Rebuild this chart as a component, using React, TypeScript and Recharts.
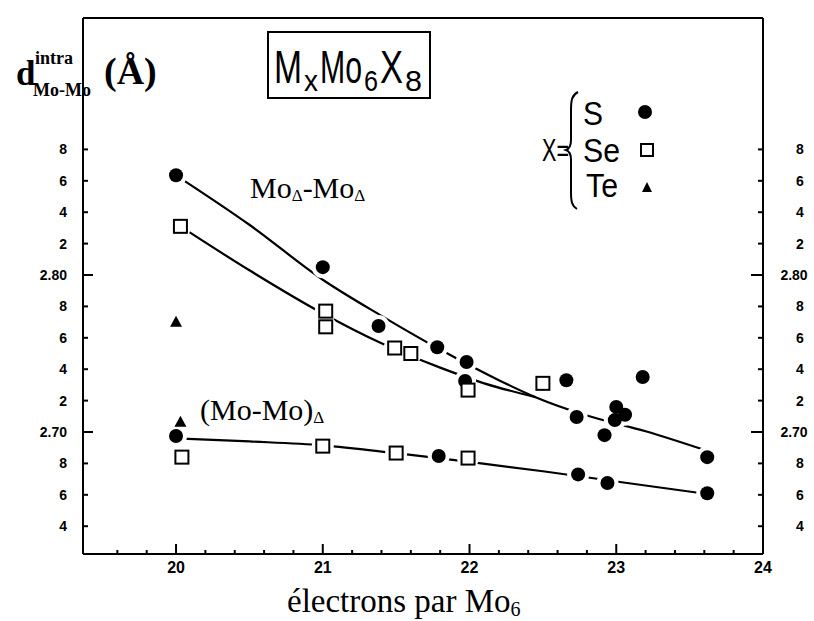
import React from 'react';
import { ComposedChart, Line, Scatter, XAxis, YAxis, ReferenceLine, Customized } from 'recharts';

const X_DOMAIN: [number, number] = [19.366, 24];
const Y_DOMAIN: [number, number] = [2.6223, 2.9637];

const xTicks = [19.6, 19.8, 20, 20.2, 20.4, 20.6, 20.8, 21, 21.2, 21.4, 21.6, 21.8, 22, 22.2, 22.4, 22.6, 22.8, 23, 23.2, 23.4, 23.6, 23.8, 24];
const xTickLabels = ['20', '21', '22', '23', '24'];
const yTicks = [2.64, 2.66, 2.68, 2.7, 2.72, 2.74, 2.76, 2.78, 2.8, 2.82, 2.84, 2.86, 2.88];
const yTickLabels = ['4', '6', '8', '2.70', '2', '4', '6', '8', '2.80', '2', '4', '6', '8'];

// X = S (filled circles)
const sulfurPoints: [number, number][] = [
  [20.0, 2.8635], [21.0, 2.805], [21.38, 2.7675], [21.78, 2.754], [21.98, 2.7446], [21.97, 2.7325],
  [22.66, 2.733], [23.18, 2.735], [22.73, 2.7096], [23.0, 2.716], [23.06, 2.711], [22.99, 2.7076],
  [22.92, 2.698], [23.62, 2.684],
  [20.0, 2.6975], [21.79, 2.6847], [22.74, 2.673], [22.94, 2.6675], [23.62, 2.661],
];
// X = Se (open squares)
const seleniumPoints: [number, number][] = [
  [20.03, 2.831], [21.02, 2.777], [21.02, 2.767], [21.49, 2.7535], [21.6, 2.75], [21.99, 2.7267], [22.5, 2.731],
  [20.04, 2.684], [21.0, 2.691], [21.5, 2.6866], [21.99, 2.6834],
];
// X = Te (filled triangles)
const telluriumPoints: [number, number][] = [
  [20.0, 2.7703], [20.03, 2.7066],
];

// hand-drawn trend curves
const curveMoTriS: [number, number][] = [
  [20.0, 2.8635], [20.5, 2.832], [21.0, 2.797], [21.4, 2.774], [21.8, 2.7525], [22.2, 2.733],
  [22.45, 2.7222], [22.8, 2.7105], [23.2, 2.7005], [23.62, 2.688],
];
const curveMoTriSe: [number, number][] = [
  [20.03, 2.831], [20.5, 2.803], [21.0, 2.7755], [21.4, 2.7565], [21.8, 2.741], [22.1, 2.731], [22.45, 2.7222],
];
const curveMoMoTri: [number, number][] = [
  [20.0, 2.696], [20.5, 2.694], [21.0, 2.6915], [21.5, 2.6865], [22.0, 2.681], [22.5, 2.675], [23.0, 2.6685], [23.62, 2.6605],
];

const toXY = (arr: [number, number][]) => arr.map(([x, y]) => ({ x, y }));
const allPoints = [...sulfurPoints, ...seleniumPoints, ...telluriumPoints];

const SANS = 'Liberation Sans, Arial, sans-serif';
const SERIF = 'Liberation Serif, Times New Roman, serif';

const labelForY = (v: number) => {
  const i = yTicks.findIndex((t) => Math.abs(t - v) < 1e-6);
  return i >= 0 ? yTickLabels[i] : '';
};

const XTick = (props: any) => {
  const { x, y, payload } = props;
  const v = payload.value as number;
  const major = Math.abs(v - Math.round(v)) < 1e-6;
  const lbl = major ? xTickLabels.find((l) => Number(l) === Math.round(v)) : undefined;
  return (
    <g>
      <line x1={x} x2={x} y1={y} y2={y - (major ? 10 : 4)} stroke="#000" strokeWidth={2} />
      {lbl && (
        <text x={x} y={y + 19} textAnchor="middle" fontFamily={SANS} fontWeight="bold" fontSize={16} fill="#000">
          {lbl}
        </text>
      )}
    </g>
  );
};

const YTickLeft = (props: any) => {
  const { x, y, payload } = props;
  const lbl = labelForY(payload.value);
  const major = lbl.includes('.');
  return (
    <g>
      <line x1={x} x2={x + (major ? 10 : 5)} y1={y} y2={y} stroke="#000" strokeWidth={2} />
      <text x={x - 16} y={y + 5} textAnchor="end" fontFamily={SANS} fontWeight="bold" fontSize={14} fill="#000">
        {lbl}
      </text>
    </g>
  );
};

const YTickRight = (props: any) => {
  const { x, y, payload } = props;
  const lbl = labelForY(payload.value);
  const major = lbl.includes('.');
  return (
    <g>
      <line x1={x} x2={x - (major ? 12 : 5)} y1={y} y2={y} stroke="#000" strokeWidth={2} />
      <text x={x + (major ? 31 : 37)} y={y + 5} textAnchor="middle" fontFamily={SANS} fontWeight="bold" fontSize={14} fill="#000">
        {lbl}
      </text>
    </g>
  );
};

const Dot = (p: any) => <circle cx={p.cx} cy={p.cy} r={7} fill="#000" />;
const Square = (p: any) => (
  <rect x={p.cx - 6.5} y={p.cy - 6.5} width={13} height={13} fill="#fff" stroke="#000" strokeWidth={2} />
);
const Tri = (p: any) => (
  <path d={`M ${p.cx} ${p.cy - 6} L ${p.cx + 6} ${p.cy + 5} L ${p.cx - 6} ${p.cy + 5} Z`} fill="#000" />
);
const Halo = (p: any) => <circle cx={p.cx} cy={p.cy} r={11} fill="#fff" />;

const Overlay = () => (
  <g>
    {/* break in the left frame behind the axis title */}
    <rect x={78} y={33} width={12} height={79} fill="#fff" />
    {/* axis title d^intra_Mo-Mo (Å) */}
    <text x={16} y={85} fontFamily={SERIF} fontWeight="bold" fontSize={35} fill="#000">d</text>
    <text x={35} y={64} fontFamily={SERIF} fontWeight="bold" fontSize={18} fill="#000">intra</text>
    <text x={33} y={96} fontFamily={SERIF} fontWeight="bold" fontSize={18} fill="#000">Mo-Mo</text>
    <text x={104} y={84} fontFamily={SERIF} fontWeight="bold" fontSize={38} fill="#000">(Å)</text>

    {/* title box M_x Mo_6 X_8 */}
    <rect x={268} y={32} width={162} height={66} fill="none" stroke="#000" strokeWidth={2} />
    <text x={274} y={83} fontFamily={SANS} fontSize={46} fill="#000" textLength={28} lengthAdjust="spacingAndGlyphs">M</text>
    <text x={304} y={91} fontFamily={SANS} fontSize={30} fill="#000" textLength={14} lengthAdjust="spacingAndGlyphs">x</text>
    <text x={320} y={83} fontFamily={SANS} fontSize={46} fill="#000" textLength={42} lengthAdjust="spacingAndGlyphs">Mo</text>
    <text x={364} y={91} fontFamily={SANS} fontSize={30} fill="#000" textLength={14} lengthAdjust="spacingAndGlyphs">6</text>
    <text x={380} y={83} fontFamily={SANS} fontSize={46} fill="#000" textLength={23} lengthAdjust="spacingAndGlyphs">X</text>
    <text x={405} y={91} fontFamily={SANS} fontSize={30} fill="#000" textLength={17} lengthAdjust="spacingAndGlyphs">8</text>

    {/* legend */}
    <text x={542} y={161} fontFamily={SANS} fontSize={32} fill="#000" textLength={27} lengthAdjust="spacingAndGlyphs">X=</text>
    <path
      d="M 578 92 C 572 95, 571 100, 571 110 L 571 140 C 571 146, 569 149, 566 150 C 569 151, 571 154, 571 160 L 571 192 C 571 202, 572 206, 577 209"
      fill="none"
      stroke="#000"
      strokeWidth={2}
    />
    <text x={583} y={125} fontFamily={SANS} fontSize={34} fill="#000" textLength={20} lengthAdjust="spacingAndGlyphs">S</text>
    <text x={583} y={162} fontFamily={SANS} fontSize={34} fill="#000" textLength={37} lengthAdjust="spacingAndGlyphs">Se</text>
    <text x={586} y={197} fontFamily={SANS} fontSize={34} fill="#000" textLength={32} lengthAdjust="spacingAndGlyphs">Te</text>
    <circle cx={645} cy={112} r={7} fill="#000" />
    <rect x={641} y={144} width={12} height={12} fill="#fff" stroke="#000" strokeWidth={2} />
    <path d="M 647 182 L 652 192 L 642 192 Z" fill="#000" />

    {/* curve annotations */}
    <text x={250} y={198} fontFamily={SERIF} fontSize={30} fill="#000">
      Mo<tspan fontSize={17} dy={3}>Δ</tspan>
      <tspan dy={-3}>-Mo</tspan>
      <tspan fontSize={17} dy={3}>Δ</tspan>
    </text>
    <text x={200} y={420} fontFamily={SERIF} fontSize={30} fill="#000">
      (Mo-Mo)<tspan fontSize={17} dy={3}>Δ</tspan>
    </text>

    {/* x axis title */}
    <text x={287} y={612} fontFamily={SERIF} fontSize={33} fill="#000">
      électrons par Mo<tspan fontSize={20} dy={4}>6</tspan>
    </text>
  </g>
);

export default function App() {
  return (
    <div style={{ position: 'absolute', left: 0, top: 0, background: '#fff' }}>
      <ComposedChart width={814} height={621} margin={{ top: 18, right: 0, bottom: 0, left: 0 }}>
        <XAxis
          xAxisId="b"
          dataKey="x"
          type="number"
          domain={X_DOMAIN}
          ticks={xTicks}
          interval={0}
          allowDataOverflow
          height={67}
          tickSize={0}
          tickMargin={0}
          tickLine={false}
          axisLine={{ stroke: '#000', strokeWidth: 2 }}
          tick={<XTick />}
        />
        <YAxis
          yAxisId="l"
          dataKey="y"
          type="number"
          orientation="left"
          domain={Y_DOMAIN}
          ticks={yTicks}
          interval={0}
          allowDataOverflow
          width={83}
          tickSize={0}
          tickMargin={0}
          tickLine={false}
          axisLine={{ stroke: '#000', strokeWidth: 2 }}
          tick={<YTickLeft />}
        />
        <YAxis
          yAxisId="r"
          dataKey="y"
          type="number"
          orientation="right"
          domain={Y_DOMAIN}
          ticks={yTicks}
          interval={0}
          allowDataOverflow
          width={51}
          tickSize={0}
          tickMargin={0}
          tickLine={false}
          axisLine={{ stroke: '#000', strokeWidth: 2 }}
          tick={<YTickRight />}
        />
        <ReferenceLine xAxisId="b" yAxisId="l" y={Y_DOMAIN[1]} stroke="#000" strokeWidth={2} />

        <Line xAxisId="b" yAxisId="l" data={toXY(curveMoTriS)} dataKey="y" type="monotone" stroke="#000" strokeWidth={2.2} dot={false} isAnimationActive={false} />
        <Line xAxisId="b" yAxisId="l" data={toXY(curveMoTriSe)} dataKey="y" type="monotone" stroke="#000" strokeWidth={2.2} dot={false} isAnimationActive={false} />
        <Line xAxisId="b" yAxisId="l" data={toXY(curveMoMoTri)} dataKey="y" type="monotone" stroke="#000" strokeWidth={2.2} dot={false} isAnimationActive={false} />

        <Scatter xAxisId="b" yAxisId="l" data={toXY(allPoints)} dataKey="y" shape={Halo} isAnimationActive={false} />
        <Scatter xAxisId="b" yAxisId="l" data={toXY(sulfurPoints)} dataKey="y" shape={Dot} isAnimationActive={false} />
        <Scatter xAxisId="b" yAxisId="l" data={toXY(seleniumPoints)} dataKey="y" shape={Square} isAnimationActive={false} />
        <Scatter xAxisId="b" yAxisId="l" data={toXY(telluriumPoints)} dataKey="y" shape={Tri} isAnimationActive={false} />

        <Customized component={Overlay} />
      </ComposedChart>
    </div>
  );
}
